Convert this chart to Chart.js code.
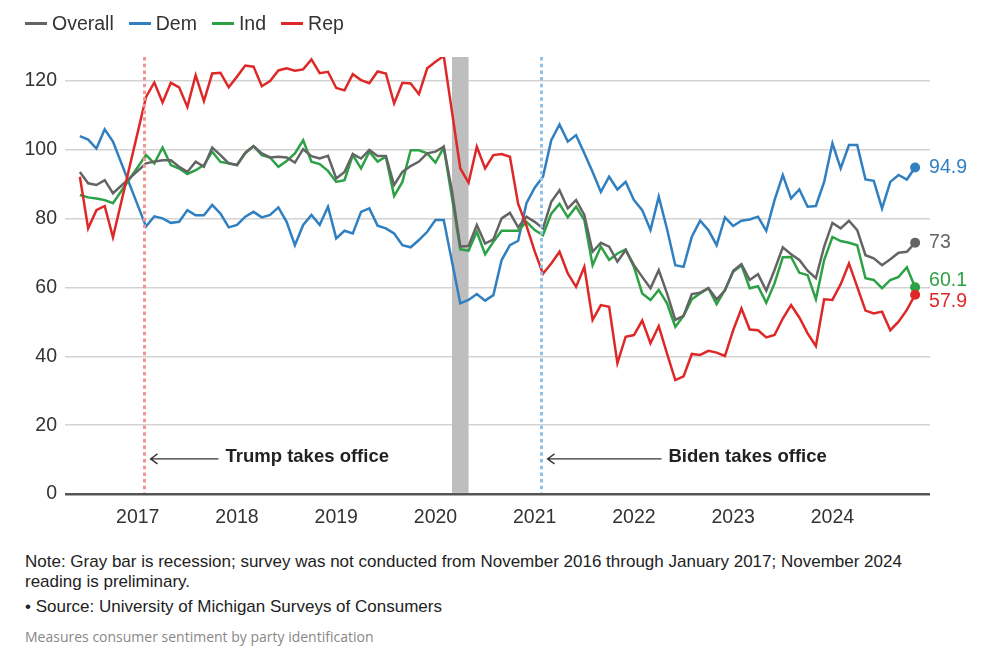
<!DOCTYPE html>
<html>
<head>
<meta charset="utf-8">
<script src="https://cdn.jsdelivr.net/npm/chart.js@4.4.1/dist/chart.umd.min.js"></script>
<style>
  body { margin: 0; background: #fff; font-family: 'Liberation Sans', Arial, sans-serif; }
  #wrap { position: relative; width: 1004px; height: 663px; overflow: hidden; }
  #box { position: absolute; left: 0; top: 0; width: 1004px; height: 540px; }
  #legend { position: absolute; left: 25px; top: 11px; display: flex; align-items: center; font-size: 19.5px; color: #333; line-height: 24px; }
  #legend .item { display: flex; align-items: center; margin-right: 15px; }
  #legend .sw { width: 22px; height: 3px; margin-right: 5px; }
  .foot { position: absolute; left: 25px; color: #222; font-size: 17px; line-height: 19.5px; }
  #note { top: 552px; }
  #source { top: 597px; }
  #sub { position: absolute; left: 25px; top: 627px; font-size: 14px; color: #888; font-family: 'Open Sans', sans-serif; }
</style>
</head>
<body>
<div id="wrap">
  <div id="box"><canvas id="sentiment"></canvas></div>
  <div id="legend"></div>
  <div class="foot" id="note">Note: Gray bar is recession; survey was not conducted from November 2016 through January 2017; November 2024<br>reading is preliminary.</div>
  <div class="foot" id="source">• Source: University of Michigan Surveys of Consumers</div>
  <div id="sub">Measures consumer sentiment by party identification</div>
</div>
<script>
// monthly readings (survey skipped Nov 2016 - Jan 2017)
var months = [
  '2016-06', '2016-07', '2016-08', '2016-09', '2016-10',
  '2017-02', '2017-03', '2017-04', '2017-05', '2017-06', '2017-07', '2017-08', '2017-09', '2017-10', '2017-11', '2017-12',
  '2018-01', '2018-02', '2018-03', '2018-04', '2018-05', '2018-06', '2018-07', '2018-08', '2018-09', '2018-10', '2018-11', '2018-12',
  '2019-01', '2019-02', '2019-03', '2019-04', '2019-05', '2019-06', '2019-07', '2019-08', '2019-09', '2019-10', '2019-11', '2019-12',
  '2020-01', '2020-02', '2020-03', '2020-04', '2020-05', '2020-06', '2020-07', '2020-08', '2020-09', '2020-10', '2020-11', '2020-12',
  '2021-01', '2021-02', '2021-03', '2021-04', '2021-05', '2021-06', '2021-07', '2021-08', '2021-09', '2021-10', '2021-11', '2021-12',
  '2022-01', '2022-02', '2022-03', '2022-04', '2022-05', '2022-06', '2022-07', '2022-08', '2022-09', '2022-10', '2022-11', '2022-12',
  '2023-01', '2023-02', '2023-03', '2023-04', '2023-05', '2023-06', '2023-07', '2023-08', '2023-09', '2023-10', '2023-11', '2023-12',
  '2024-01', '2024-02', '2024-03', '2024-04', '2024-05', '2024-06', '2024-07', '2024-08', '2024-09', '2024-10', '2024-11'
];

var overall = [
  93.6, 90.3, 89.8, 91.2, 87.4,
  96.1, 96.6, 97.0, 97.0, 95.1, 93.6, 96.6, 95.1, 100.7, 98.5, 96.1,
  95.6, 99.2, 101.1, 99.0, 97.8, 98.0, 97.8, 96.3, 100.2, 98.2, 97.5, 98.3,
  91.7, 93.6, 98.8, 97.5, 100.0, 98.2, 98.2, 89.8, 93.6, 95.3, 96.6, 99.0,
  99.5, 100.9, 88.0, 71.9, 72.1, 78.2, 72.8, 74.0, 80.1, 81.7, 77.5, 80.6,
  79.1, 77.2, 84.9, 88.3, 83.0, 85.4, 81.1, 70.4, 73.0, 71.9, 67.5, 70.9,
  66.5, 63.1, 59.8, 65.1, 58.3, 50.6, 51.8, 58.1, 58.5, 59.8, 56.6, 59.1,
  64.9, 66.8, 62.2, 63.9, 59.1, 65.1, 71.7, 69.7, 68.0, 64.9, 62.7, 71.9,
  78.8, 77.2, 79.4, 76.7, 69.4, 68.5, 66.5, 68.2, 70.1, 70.4, 73.0
];

var dem = [
  104.0, 103.0, 100.4, 106.0, 102.4,
  77.7, 80.7, 80.1, 78.8, 79.1, 82.5, 81.0, 81.0, 84.0, 81.5, 77.5,
  78.2, 80.6, 82.0, 80.4, 81.1, 83.3, 79.1, 72.3, 78.2, 81.1, 78.2, 83.5,
  74.3, 76.5, 75.7, 82.0, 83.0, 78.0, 77.2, 75.7, 72.3, 71.7, 73.8, 76.2,
  79.6, 79.6, 67.5, 55.4, 56.4, 58.1, 56.2, 57.8, 68.0, 72.3, 73.6, 84.5,
  89.0, 92.2, 102.8, 107.4, 102.4, 104.3, 99.0, 93.6, 87.8, 92.2, 88.5, 90.7,
  85.4, 82.5, 76.7, 86.4, 77.0, 66.5, 66.0, 74.8, 79.4, 76.7, 72.3, 80.4,
  77.9, 79.4, 79.8, 80.6, 76.5, 85.4, 92.7, 85.9, 88.5, 83.5, 83.7, 90.7,
  101.9, 94.6, 101.4, 101.4, 91.4, 91.0, 83.0, 90.7, 92.7, 91.4, 94.9
];

var ind = [
  86.9, 86.2, 85.9, 85.4, 84.5,
  98.5, 96.1, 100.7, 95.6, 94.6, 93.0, 94.1, 95.6, 99.5, 96.5, 96.1,
  95.6, 99.0, 101.1, 98.5, 97.8, 95.1, 96.8, 99.0, 102.8, 96.6, 95.9, 93.9,
  90.7, 91.2, 98.5, 94.6, 99.5, 96.6, 98.0, 86.6, 90.7, 99.9, 99.9, 99.0,
  96.3, 100.7, 86.0, 71.1, 70.7, 76.2, 69.7, 73.3, 76.5, 76.5, 76.5, 79.1,
  76.7, 75.2, 81.5, 84.3, 80.4, 83.5, 79.6, 66.5, 71.9, 68.0, 69.9, 71.1,
  66.0, 58.3, 56.4, 59.3, 55.4, 48.6, 51.8, 56.6, 58.3, 59.8, 55.2, 59.3,
  64.6, 66.5, 59.8, 60.4, 55.6, 61.2, 68.8, 68.9, 64.3, 63.6, 56.6, 68.0,
  74.7, 73.5, 73.0, 72.3, 62.7, 62.2, 59.8, 62.2, 63.1, 65.9, 60.1
];

var rep = [
  92.2, 77.2, 82.5, 83.7, 74.6,
  115.4, 119.6, 113.8, 119.5, 118.2, 112.5, 121.7, 114.2, 122.2, 122.4, 118.2,
  121.3, 124.5, 124.2, 118.5, 120.0, 123.1, 123.7, 123.0, 123.4, 126.3, 122.3, 122.7,
  118.0, 117.3, 122.0, 120.3, 119.4, 122.8, 122.2, 113.5, 119.5, 119.3, 116.2, 123.7,
  125.6, 127.3, 111.0, 94.6, 90.5, 100.9, 94.6, 98.5, 98.8, 98.0, 84.3, 78.0,
  70.5, 64.0, 67.0, 70.4, 64.1, 60.2, 66.0, 50.6, 54.9, 54.4, 38.0, 45.7,
  46.2, 50.4, 43.8, 48.8, 40.8, 33.1, 34.2, 40.7, 40.4, 41.6, 41.1, 40.1,
  47.6, 53.9, 47.8, 47.6, 45.5, 46.2, 51.0, 54.9, 51.3, 46.7, 43.0, 56.6,
  56.4, 61.0, 67.0, 60.2, 53.3, 52.5, 53.0, 47.6, 50.1, 53.5, 57.9
];

var seriesNames = ['Overall', 'Dem', 'Ind', 'Rep'];
var yearTicks = ['2017', '2018', '2019', '2020', '2021', '2022', '2023', '2024'];
var valueTicks = [0, 20, 40, 60, 80, 100, 120];
var recession = ['2020-03', '2020-04'];
var eventDates = ['2017-01-20', '2021-01-20'];
var eventLabels = ['Trump takes office', 'Biden takes office'];

// styles
var seriesColors = ['#646464', '#2f7fc1', '#2ca145', '#de2828'];
var eventColors = ['#f29494', '#93c0e6'];
var arrowLens = [68, 114];
var arrowAt = 10.2;
var FONT = "'Liberation Sans', Arial, sans-serif";

// months since Jan 2017, day gives a fraction
function monthIndex(s) {
    var p = s.split('-').map(Number);
    var v = (p[0] - 2017) * 12 + (p[1] - 1);
    if (p[2]) v += (p[2] - 1) / 31;
    return v;
}

var allSeries = [overall, dem, ind, rep];

// legend
var legend = document.getElementById('legend');
seriesNames.forEach(function (name, i) {
    var it = document.createElement('div');
    it.className = 'item';
    it.innerHTML = '<span class="sw" style="background:' + seriesColors[i] + '"></span>' + name;
    legend.appendChild(it);
});

var extras = {
    id: 'extras',
    beforeDatasetsDraw: function (chart) {
        var ctx = chart.ctx, a = chart.chartArea, x = chart.scales.x, y = chart.scales.y;
        var x0 = x.getPixelForValue(monthIndex(recession[0]));
        var x1 = x.getPixelForValue(monthIndex(recession[1]) + 1);
        ctx.save();
        ctx.fillStyle = '#bebebe';
        ctx.fillRect(x0, a.top, x1 - x0, y.getPixelForValue(0) - 1.2 - a.top);
        ctx.restore();
    },
    afterDatasetsDraw: function (chart) {
        var ctx = chart.ctx, a = chart.chartArea, x = chart.scales.x, y = chart.scales.y;
        ctx.save();
        // inauguration lines + arrows
        eventDates.forEach(function (d, i) {
            var px = Math.round(x.getPixelForValue(monthIndex(d))) + 1.5;
            ctx.strokeStyle = eventColors[i];
            ctx.lineWidth = 3;
            ctx.setLineDash([3.5, 3.2]);
            ctx.beginPath();
            ctx.moveTo(px, a.top);
            ctx.lineTo(px, y.getPixelForValue(0) - 1);
            ctx.stroke();
            ctx.setLineDash([]);

            var ay = y.getPixelForValue(arrowAt);
            var tip = px + 6, tail = tip + arrowLens[i];
            ctx.strokeStyle = '#333';
            ctx.lineWidth = 1.3;
            ctx.beginPath();
            ctx.moveTo(tail, ay); ctx.lineTo(tip, ay);
            ctx.moveTo(tip + 7, ay - 5); ctx.lineTo(tip, ay); ctx.lineTo(tip + 7, ay + 5);
            ctx.stroke();

            ctx.fillStyle = '#222';
            ctx.font = 'bold 18.5px ' + FONT;
            ctx.textBaseline = 'middle';
            ctx.textAlign = 'left';
            ctx.fillText(eventLabels[i], tail + 7, ay - 2);
        });

        // end labels, pushed apart when they collide
        var labels = chart.data.datasets.map(function (ds, i) {
            var meta = chart.getDatasetMeta(i);
            var pt = meta.data[meta.data.length - 1];
            var vals = allSeries[i];
            return { x: pt.x, y: pt.y, text: String(vals[vals.length - 1]), color: seriesColors[i] };
        }).sort(function (p, q) { return p.y - q.y; });
        for (var k = 1; k < labels.length; k++) {
            var gap = labels[k].y - labels[k - 1].y;
            if (gap < 21) {
                var sh = (21 - gap) / 2;
                labels[k - 1].y -= sh;
                labels[k].y += sh;
            }
        }
        ctx.font = '19.5px ' + FONT;
        ctx.textBaseline = 'middle';
        labels.forEach(function (l) {
            ctx.fillStyle = l.color;
            ctx.fillText(l.text, l.x + 14, l.y);
        });
        ctx.restore();
    }
};

var ctx = document.getElementById('sentiment').getContext('2d');
var myChart = new Chart(ctx, {
    type: 'line',
    data: {
        datasets: allSeries.map(function (vals, i) {
            return {
                label: seriesNames[i],
                data: vals.map(function (v, j) { return { x: monthIndex(months[j]), y: v }; }),
                borderColor: seriesColors[i],
                backgroundColor: seriesColors[i],
                borderWidth: 2.5,
                tension: 0,
                order: [2, 4, 3, 1][i],
                pointRadius: function (c) { return c.dataIndex === vals.length - 1 ? 5 : 0; },
                pointBorderWidth: 0,
                pointHoverRadius: 0
            };
        })
    },
    options: {
        responsive: true,
        maintainAspectRatio: false,
        animation: false,
        devicePixelRatio: 1,
        events: [],
        layout: { padding: { left: 0, right: 74, top: 57, bottom: 0 } },
        plugins: { legend: { display: false }, tooltip: { enabled: false } },
        scales: {
            x: {
                type: 'linear',
                min: -8.8,
                max: 95.8,
                afterBuildTicks: function (s) {
                    s.ticks = yearTicks.map(function (t) { return { value: monthIndex(t + '-01') }; });
                },
                afterFit: function (s) { s.height = 46; },
                ticks: {
                    autoSkip: false,
                    maxRotation: 0,
                    padding: 12,
                    color: '#333',
                    font: { family: FONT, size: 19.5 },
                    callback: function (v, i) { return yearTicks[i]; }
                },
                grid: { display: false, drawTicks: false },
                border: { display: false }
            },
            y: {
                min: 0,
                max: 127,
                afterBuildTicks: function (s) {
                    s.ticks = valueTicks.map(function (v) { return { value: v }; });
                },
                afterFit: function (s) { s.width = 65; },
                ticks: {
                    padding: 8,
                    color: '#333',
                    font: { family: FONT, size: 19.5 }
                },
                grid: {
                    drawTicks: false,
                    color: function (c) { return c.tick && c.tick.value === 0 ? '#555' : '#d3d3d3'; },
                    lineWidth: function (c) { return c.tick && c.tick.value === 0 ? 2.5 : 1.5; }
                },
                border: { display: false }
            }
        }
    },
    plugins: [extras]
});
</script>
</body>
</html>
